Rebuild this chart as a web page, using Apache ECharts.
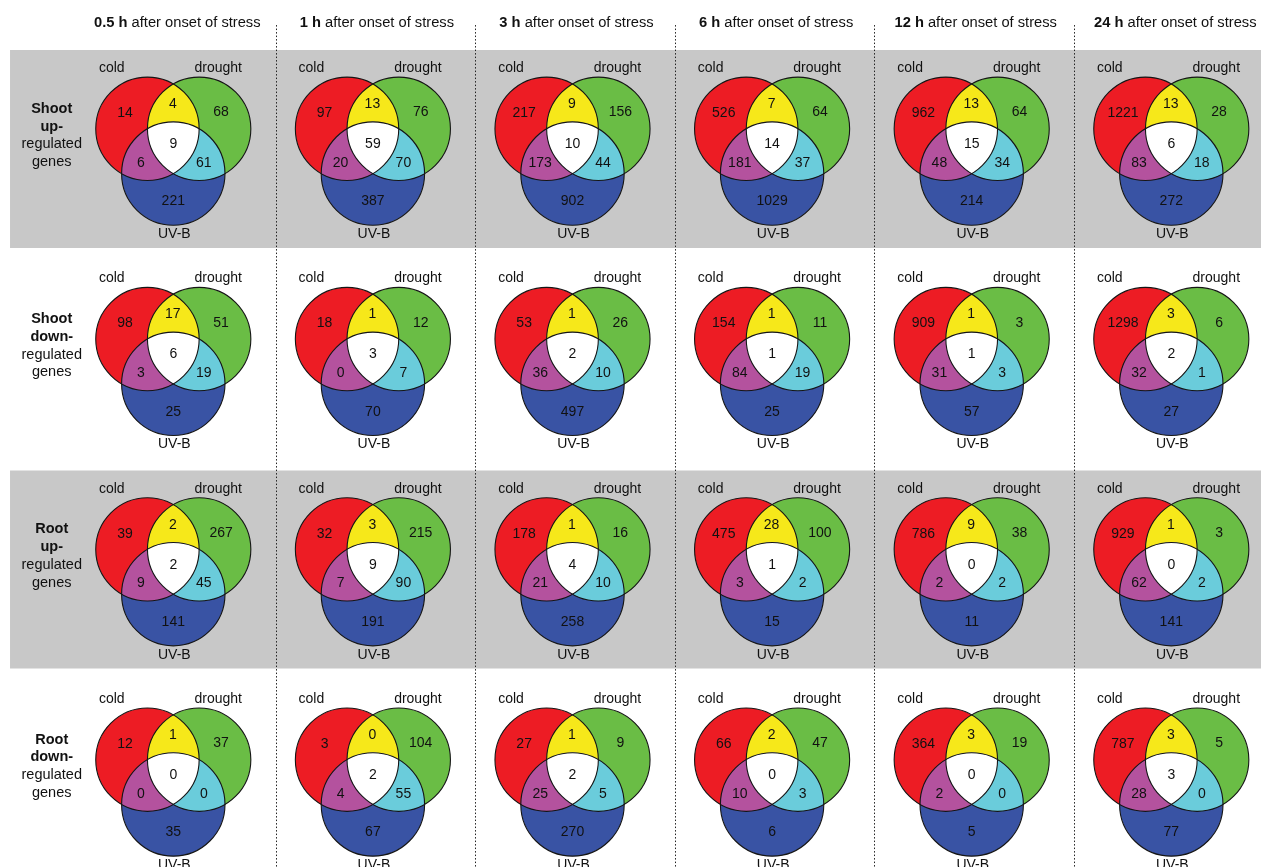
<!DOCTYPE html>
<html>
<head>
<meta charset="utf-8">
<script src="https://cdn.jsdelivr.net/npm/echarts@6/dist/echarts.min.js"></script>
<style>
  html, body { margin: 0; padding: 0; background: #ffffff; }
  #chart { width: 1261px; height: 867px; }
</style>
</head>
<body>
<div id="chart"></div>
<script>
// Time points after onset of stress (columns)
const timePoints = ['0.5 h', '1 h', '3 h', '6 h', '12 h', '24 h'];
// Row labels: [organ, direction]
const rowTitles = [['Shoot', 'up-'], ['Shoot', 'down-'], ['Root', 'up-'], ['Root', 'down-']];
const setNames = ['cold', 'drought', 'UV-B'];

// Gene counts per Venn region, in the order:
// cold only, cold∩drought, drought only, cold∩UV-B, all three, drought∩UV-B, UV-B only
const shootUp = [
  [14, 4, 68, 6, 9, 61, 221],
  [97, 13, 76, 20, 59, 70, 387],
  [217, 9, 156, 173, 10, 44, 902],
  [526, 7, 64, 181, 14, 37, 1029],
  [962, 13, 64, 48, 15, 34, 214],
  [1221, 13, 28, 83, 6, 18, 272]
];
const shootDown = [
  [98, 17, 51, 3, 6, 19, 25],
  [18, 1, 12, 0, 3, 7, 70],
  [53, 1, 26, 36, 2, 10, 497],
  [154, 1, 11, 84, 1, 19, 25],
  [909, 1, 3, 31, 1, 3, 57],
  [1298, 3, 6, 32, 2, 1, 27]
];
const rootUp = [
  [39, 2, 267, 9, 2, 45, 141],
  [32, 3, 215, 7, 9, 90, 191],
  [178, 1, 16, 21, 4, 10, 258],
  [475, 28, 100, 3, 1, 2, 15],
  [786, 9, 38, 2, 0, 2, 11],
  [929, 1, 3, 62, 0, 2, 141]
];
const rootDown = [
  [12, 1, 37, 0, 0, 0, 35],
  [3, 0, 104, 4, 2, 55, 67],
  [27, 1, 9, 25, 2, 5, 270],
  [66, 2, 47, 10, 0, 3, 6],
  [364, 3, 19, 2, 0, 0, 5],
  [787, 3, 5, 28, 3, 0, 77]
];

const rowsData = [shootUp, shootDown, rootUp, rootDown];
const shadedRows = [0, 2];

const FONT = '"Liberation Sans", Arial, Helvetica, sans-serif';
const COLORS = {
  cold: '#ED1C24', drought: '#6ABD45', uvb: '#3953A4',
  coldDrought: '#F6E81A', coldUvb: '#B4529E', droughtUvb: '#6ACCDB', all: '#FFFFFF',
  band: '#C8C8C8', outline: '#151515', text: '#111111'
};

// Layout in axis units: one unit per column / per row
const RADIUS_UNITS = 0.259;
// Count label offsets (multiples of the circle radius), same order as the data
const countOffsets = [
  [-0.935, -0.59], [-0.01, -0.765], [0.925, -0.605],
  [-0.625, 0.37], [0, 0.01], [0.59, 0.37], [0, 1.12]
];
const setLabelOffsets = [[-1.19, -1.458], [0.87, -1.458], [0.02, 1.752]];

// Table for the Venn series: [column, row, ...counts]
const vennData = [];
rowsData.forEach((row, r) => row.forEach((counts, c) => vennData.push([c, r].concat(counts))));

// Convex region shared by several equal disks, as a polygon
function diskIntersection(centers, R) {
  const pts = [];
  const N = 720;
  centers.forEach((c, i) => {
    for (let k = 0; k < N; k++) {
      const t = 2 * Math.PI * k / N;
      const x = c[0] + R * Math.cos(t), y = c[1] + R * Math.sin(t);
      const inside = centers.every((o, j) => j === i || Math.hypot(x - o[0], y - o[1]) <= R + 1e-6);
      if (inside) pts.push([x, y]);
    }
  });
  let mx = 0, my = 0;
  pts.forEach(p => { mx += p[0]; my += p[1]; });
  mx /= pts.length; my /= pts.length;
  pts.sort((a, b) => Math.atan2(a[1] - my, a[0] - mx) - Math.atan2(b[1] - my, b[0] - mx));
  return pts;
}

function renderVenn(params, api) {
  const p = api.coord([api.value(0), api.value(1)]);
  const R = api.size([RADIUS_UNITS, 0])[0];
  const h = R * Math.sqrt(3) / 2;
  const cCold = [p[0] - R / 2, p[1] - h / 3];
  const cDrought = [p[0] + R / 2, p[1] - h / 3];
  const cUvb = [p[0], p[1] + 2 * h / 3];
  const counts = [];
  for (let i = 0; i < 7; i++) counts.push(api.value(2 + i));

  const children = [];
  const disk = (c, fill) => ({
    type: 'circle', shape: { cx: c[0], cy: c[1], r: R }, style: { fill: fill, stroke: null }
  });
  const region = (cs, fill) => ({
    type: 'polygon', shape: { points: diskIntersection(cs, R) }, style: { fill: fill, stroke: null }
  });
  children.push(disk(cCold, COLORS.cold));
  children.push(disk(cDrought, COLORS.drought));
  children.push(disk(cUvb, COLORS.uvb));
  children.push(region([cCold, cDrought], COLORS.coldDrought));
  children.push(region([cCold, cUvb], COLORS.coldUvb));
  children.push(region([cDrought, cUvb], COLORS.droughtUvb));
  children.push(region([cCold, cDrought, cUvb], COLORS.all));
  [cCold, cDrought, cUvb].forEach(c => children.push({
    type: 'circle', shape: { cx: c[0], cy: c[1], r: R },
    style: { fill: null, stroke: COLORS.outline, lineWidth: 1.1 }
  }));
  counts.forEach((v, i) => children.push({
    type: 'text', x: p[0] + countOffsets[i][0] * R, y: p[1] + countOffsets[i][1] * R,
    style: { text: String(v), fill: COLORS.text, fontSize: 14, fontFamily: FONT, align: 'center', verticalAlign: 'middle' }
  }));
  setNames.forEach((name, i) => children.push({
    type: 'text', x: p[0] + setLabelOffsets[i][0] * R, y: p[1] + setLabelOffsets[i][1] * R,
    style: { text: name, fill: COLORS.text, fontSize: 14, fontFamily: FONT, align: 'center', verticalAlign: 'middle' }
  }));
  return { type: 'group', children: children };
}

function renderBand(params, api) {
  const r = api.value(0);
  const a = api.coord([-0.818, r - 0.4456]);
  const b = api.coord([5.46, r + 0.496]);
  return {
    type: 'rect', shape: { x: a[0], y: a[1], width: b[0] - a[0], height: b[1] - a[1] },
    style: { fill: COLORS.band }
  };
}

function renderDivider(params, api) {
  const x = api.value(0) + 0.513;
  const a = api.coord([x, -0.564]);
  const b = api.coord([x, 3.44]);
  return {
    type: 'line', shape: { x1: Math.round(a[0]) + 0.5, y1: a[1], x2: Math.round(b[0]) + 0.5, y2: b[1] },
    style: { stroke: '#222222', lineWidth: 1, lineDash: [1.5, 2] }
  };
}

function renderTitle(params, api) {
  const c = api.value(0);
  const p = api.coord([c + 0.02, -0.574]);
  return {
    type: 'text', x: p[0], y: p[1],
    style: {
      text: '{b|' + timePoints[c] + '}{n| after onset of stress}',
      rich: {
        b: { fontWeight: 'bold', fontSize: 14.7, fontFamily: FONT, fill: COLORS.text },
        n: { fontWeight: 'normal', fontSize: 14.7, fontFamily: FONT, fill: COLORS.text }
      },
      fontSize: 14.7, fontFamily: FONT, align: 'center', verticalAlign: 'middle'
    }
  };
}

function renderRowLabel(params, api) {
  const r = api.value(0);
  const p = api.coord([-0.609, r]);
  const lines = [rowTitles[r][0], rowTitles[r][1], 'regulated', 'genes'];
  const center = p[1] - 8.2;
  return {
    type: 'group',
    children: lines.map((t, i) => ({
      type: 'text', x: p[0], y: center + (i - 1.5) * 17.8,
      style: {
        text: t, fill: COLORS.text, fontSize: 14.5, fontFamily: FONT,
        fontWeight: i < 2 ? 'bold' : 'normal', align: 'center', verticalAlign: 'middle'
      }
    }))
  };
}

const chart = echarts.init(document.getElementById('chart'), null, { renderer: 'canvas' });
chart.setOption({
  backgroundColor: '#ffffff',
  animation: false,
  grid: { left: 0, right: 0, top: 0, bottom: 0 },
  xAxis: { type: 'value', min: -0.8682, max: 5.4494, show: false },
  yAxis: { type: 'value', min: -0.6833, max: 3.4394, inverse: true, show: false },
  series: [
    { type: 'custom', silent: true, renderItem: renderBand, data: shadedRows.map(r => [r]), z: 1 },
    { type: 'custom', silent: true, renderItem: renderDivider, data: [0, 1, 2, 3, 4].map(i => [i]), z: 2 },
    { type: 'custom', silent: true, renderItem: renderTitle, data: timePoints.map((t, i) => [i]), z: 3 },
    { type: 'custom', silent: true, renderItem: renderRowLabel, data: rowTitles.map((t, i) => [i]), z: 3 },
    { type: 'custom', silent: true, renderItem: renderVenn, data: vennData, z: 4 }
  ]
});
</script>
</body>
</html>
